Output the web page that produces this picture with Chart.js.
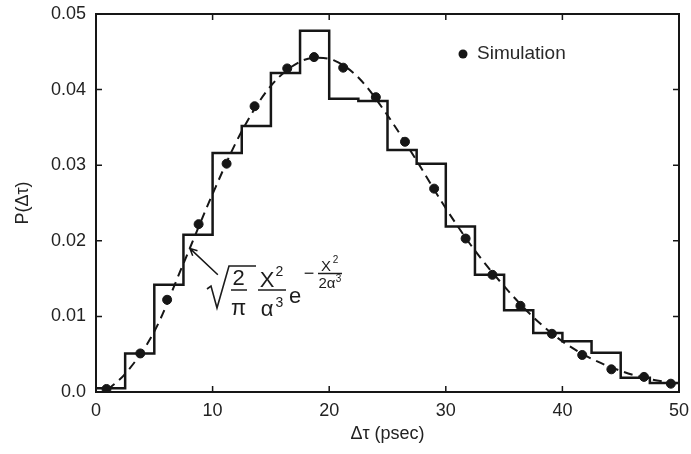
<!DOCTYPE html>
<html>
<head>
<meta charset="utf-8">
<script src="https://cdn.jsdelivr.net/npm/chart.js@4/dist/chart.umd.min.js"></script>
<style>
  html, body { margin: 0; padding: 0; background: #ffffff; }
  #wrap { width: 691px; height: 454px; position: relative; }
</style>
</head>
<body>
<div id="wrap"><canvas id="c" width="691" height="454"></canvas></div>
<script>
// ---- Data ----
const binStarts = [0, 2.5, 5, 7.5, 10, 12.5, 15, 17.5, 20, 22.5, 25, 27.5, 30, 32.5, 35, 37.5, 40, 42.5, 45, 47.5];
const binEnd = 50;
const histValues = [0.0005, 0.0051, 0.0142, 0.0208, 0.0316, 0.0352, 0.0422, 0.0478, 0.0388, 0.0385,
                    0.0320, 0.0302, 0.0219, 0.0155, 0.0108, 0.0078, 0.0067, 0.0052, 0.0019, 0.0012];

const simX = [0.9, 3.8, 6.1, 8.8, 11.2, 13.6, 16.4, 18.7, 21.2, 24.0, 26.5, 29.0, 31.7, 34.0, 36.4, 39.1, 41.7, 44.2, 47.0, 49.3];
const simY = [0.0004, 0.0051, 0.0122, 0.0222, 0.0302, 0.0378, 0.0428, 0.0443, 0.0429, 0.0390,
              0.0331, 0.0269, 0.0203, 0.0155, 0.0114, 0.0077, 0.0049, 0.0030, 0.0020, 0.0011];

const fitX = [1, 2.5, 5, 7.5, 10, 12.5, 15, 17.5, 19, 20.5, 22.5, 25, 27.5, 30, 32.5, 35, 37.5, 40, 42.5, 45, 47.5, 50];
const fitY = [0.0003, 0.0024, 0.0080, 0.0170, 0.0262, 0.0345, 0.0405, 0.0437, 0.0442, 0.0438, 0.0416,
              0.0366, 0.0306, 0.0243, 0.0187, 0.0140, 0.0099, 0.0067, 0.0044, 0.0028, 0.0017, 0.0011];

const xTicks = [0, 10, 20, 30, 40, 50];
const yTicks = [0.0, 0.01, 0.02, 0.03, 0.04, 0.05];
const xTitle = 'Δτ (psec)';
const yTitle = 'P(Δτ)';
const legendLabel = 'Simulation';

// ---- Build datasets ----
const histData = binStarts.map((x, i) => ({ x: x, y: histValues[i] }));
histData.push({ x: binEnd, y: histValues[histValues.length - 1] });
const simData = simX.map((x, i) => ({ x: x, y: simY[i] }));
const fitData = fitX.map((x, i) => ({ x: x, y: fitY[i] }));

const INK = '#161616';
const FONT = '"Liberation Sans", Arial, Helvetica, sans-serif';

const framePlugin = {
  id: 'frame',
  afterDraw(chart) {
    const ctx = chart.ctx;
    const a = chart.chartArea;
    const xs = chart.scales.x, ys = chart.scales.y;
    ctx.save();
    ctx.strokeStyle = INK;
    ctx.lineWidth = 2;
    ctx.strokeRect(a.left, a.top, a.right - a.left, a.bottom - a.top);
    // inward ticks
    const tl = 6;
    ctx.lineWidth = 1.5;
    ctx.beginPath();
    xTicks.forEach(v => {
      const px = xs.getPixelForValue(v);
      ctx.moveTo(px, a.bottom); ctx.lineTo(px, a.bottom - tl);
      ctx.moveTo(px, a.top); ctx.lineTo(px, a.top + tl);
    });
    yTicks.forEach(v => {
      const py = ys.getPixelForValue(v);
      ctx.moveTo(a.left, py); ctx.lineTo(a.left + tl, py);
      ctx.moveTo(a.right, py); ctx.lineTo(a.right - tl, py);
    });
    ctx.stroke();

    // Legend: Simulation
    ctx.fillStyle = INK;
    ctx.beginPath();
    ctx.arc(463, 54, 4.5, 0, Math.PI * 2);
    ctx.fill();
    ctx.font = '19px ' + FONT;
    ctx.fillStyle = '#2a2a2a';
    ctx.textAlign = 'left';
    ctx.textBaseline = 'middle';
    ctx.fillText(legendLabel, 477, 54);

    // Arrow pointing at the fitted curve
    const tipX = xs.getPixelForValue(8.05), tipY = ys.getPixelForValue(0.0190);
    const tailX = xs.getPixelForValue(10.45), tailY = ys.getPixelForValue(0.0155);
    ctx.strokeStyle = INK;
    ctx.lineWidth = 1.5;
    ctx.beginPath();
    ctx.moveTo(tailX, tailY); ctx.lineTo(tipX, tipY);
    const ang = Math.atan2(tipY - tailY, tipX - tailX);
    const hl = 8;
    ctx.moveTo(tipX, tipY);
    ctx.lineTo(tipX - hl * Math.cos(ang - 0.45), tipY - hl * Math.sin(ang - 0.45));
    ctx.moveTo(tipX, tipY);
    ctx.lineTo(tipX - hl * Math.cos(ang + 0.45), tipY - hl * Math.sin(ang + 0.45));
    ctx.stroke();

    // Formula: sqrt(2/pi) X^2/alpha^3 e^{-X^2/(2 alpha^3)}
    ctx.fillStyle = '#1c1c1c';
    ctx.strokeStyle = '#1c1c1c';
    ctx.lineWidth = 1.6;
    ctx.beginPath();
    ctx.moveTo(207, 289);
    ctx.lineTo(211, 286);
    ctx.lineTo(217, 308);
    ctx.lineTo(229, 266);
    ctx.lineTo(256, 266);
    ctx.stroke();
    ctx.lineWidth = 1.3;
    ctx.beginPath();
    ctx.moveTo(231, 290); ctx.lineTo(247, 290);
    ctx.moveTo(258, 290); ctx.lineTo(286, 290);
    ctx.moveTo(318, 273.5); ctx.lineTo(342, 273.5);
    ctx.stroke();
    ctx.textAlign = 'center';
    ctx.textBaseline = 'alphabetic';
    ctx.font = '22px ' + FONT;
    ctx.fillText('2', 238.5, 285);
    ctx.fillText('π', 238.5, 315);
    ctx.fillText('X', 267, 287);
    ctx.fillText('α', 267, 316);
    ctx.fillText('e', 295, 303);
    ctx.font = '14px ' + FONT;
    ctx.fillText('2', 279.5, 276);
    ctx.fillText('3', 279.5, 307);
    ctx.font = '18px ' + FONT;
    ctx.fillText('−', 309, 279);
    ctx.font = '15px ' + FONT;
    ctx.fillText('X', 326, 271);
    ctx.fillText('2α', 327, 288);
    ctx.font = '10px ' + FONT;
    ctx.fillText('2', 335.5, 263);
    ctx.fillText('3', 338.5, 282);
    ctx.restore();
  }
};

new Chart(document.getElementById('c'), {
  type: 'scatter',
  data: {
    datasets: [
      {
        label: 'Histogram',
        type: 'line',
        data: histData,
        stepped: 'before',
        borderColor: INK,
        borderWidth: 2.5,
        pointRadius: 0,
        fill: false,
        order: 3
      },
      {
        label: 'Fit',
        type: 'line',
        data: fitData,
        borderColor: INK,
        borderWidth: 2,
        borderDash: [9, 6],
        cubicInterpolationMode: 'monotone',
        pointRadius: 0,
        fill: false,
        order: 2
      },
      {
        label: legendLabel,
        data: simData,
        backgroundColor: INK,
        borderColor: INK,
        pointRadius: 4.5,
        pointHoverRadius: 4.5,
        order: 1
      }
    ]
  },
  options: {
    responsive: false,
    animation: false,
    events: [],
    layout: { padding: { left: 0, right: 12, top: 14, bottom: 0 } },
    plugins: {
      legend: { display: false },
      tooltip: { enabled: false },
      title: { display: false }
    },
    scales: {
      x: {
        type: 'linear',
        min: 0, max: 50,
        afterBuildTicks: s => { s.ticks = xTicks.map(v => ({ value: v })); },
        afterFit: s => { s.height = 62; s.paddingLeft = 0; s.paddingRight = 0; },
        grid: { display: false, drawTicks: false },
        border: { display: false },
        ticks: {
          color: '#222',
          font: { family: FONT, size: 18 },
          padding: 8,
          maxRotation: 0,
          callback: v => String(v)
        },
        title: {
          display: true,
          text: xTitle,
          color: '#222',
          font: { family: FONT, size: 18 },
          padding: { top: 0, bottom: 9 }
        }
      },
      y: {
        type: 'linear',
        min: 0, max: 0.05,
        afterBuildTicks: s => { s.ticks = yTicks.map(v => ({ value: v })); },
        afterFit: s => { s.width = 96; s.paddingTop = 0; s.paddingBottom = 0; },
        grid: { display: false, drawTicks: false },
        border: { display: false },
        ticks: {
          color: '#222',
          font: { family: FONT, size: 18 },
          padding: 10,
          callback: v => (v === 0 ? '0.0' : v.toFixed(2))
        },
        title: {
          display: true,
          text: yTitle,
          color: '#222',
          font: { family: FONT, size: 18 },
          padding: { top: 12, bottom: 0 }
        }
      }
    }
  },
  plugins: [framePlugin]
});
</script>
</body>
</html>
